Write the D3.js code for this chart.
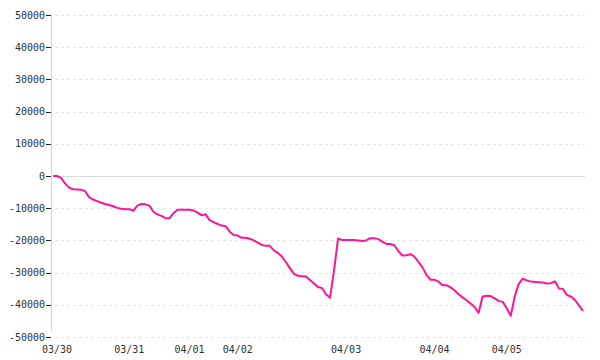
<!DOCTYPE html>
<html>
<head>
<meta charset="utf-8">
<script src="https://cdn.jsdelivr.net/npm/d3@7"></script>
<style>
  body { margin: 0; background: #fff; }
  .label { fill: #333; font-family: "DejaVu Sans Mono", monospace; font-size: 10px; }
</style>
</head>
<body>
<div id="chart"></div>
<script>
// y axis ticks
const yTicks = [50000, 40000, 30000, 20000, 10000, 0, -10000, -20000, -30000, -40000, -50000];

// date labels and the sample index where each day starts
const dayLabels = ["03/30", "03/31", "04/01", "04/02", "04/03", "04/04", "04/05"];
const dayIndex = [1, 19, 34, 46, 73, 95, 113];

// running total, one sample per step
const values = [
  0, 0, -600, -2300, -3600, -4100, -4200, -4300, -4700, -6600,
  -7300, -7800, -8300, -8700, -9000, -9400, -9900, -10200, -10300, -10300,
  -10800, -9200, -8700, -8800, -9200, -11100, -11900, -12400, -13100, -13100,
  -11600, -10500, -10500, -10500, -10500, -10700, -11400, -12200, -11900, -13700,
  -14300, -14900, -15400, -15600, -17300, -18300, -18500, -19200, -19200, -19500,
  -20000, -20700, -21400, -21700, -21700, -23100, -23900, -25000, -26700, -28600,
  -30400, -31000, -31100, -31200, -32300, -33400, -34500, -34800, -36700, -37800,
  -29300, -19400, -19900, -19900, -19900, -19900, -20000, -20200, -20000, -19300,
  -19300, -19600, -20400, -21100, -21100, -21500, -23300, -24700, -24600, -24300,
  -25000, -26700, -28300, -30700, -32200, -32200, -32800, -33900, -33900, -34600,
  -35500, -36700, -37700, -38600, -39600, -40700, -42500, -37400, -37200, -37300,
  -38000, -38800, -39100, -41100, -43400, -37400, -33500, -31900, -32400, -32800,
  -32900, -33000, -33100, -33400, -33300, -32700, -34900, -35100, -37000, -37400,
  -38500, -40200, -41900
];

const width = 600,
  height = 360;

const svg = d3
  .select("#chart")
  .append("svg")
  .attr("width", width)
  .attr("height", height);

const x = d3.scaleLinear().domain([0, values.length - 1]).range([53, 583]);
const y = d3.scaleLinear().domain([-50000, 50000]).range([337, 15]);

// dashed grid, zero line is solid
svg
  .selectAll("line.grid")
  .data(yTicks)
  .enter()
  .append("line")
  .attr("class", "grid")
  .attr("x1", 55)
  .attr("x2", 585)
  .attr("y1", d => Math.round(y(d)) + 0.5)
  .attr("y2", d => Math.round(y(d)) + 0.5)
  .attr("stroke", d => (d === 0 ? "#dcdcdc" : "#e6e6e6"))
  .attr("stroke-dasharray", d => (d === 0 ? null : "3,3"))
  .attr("shape-rendering", "crispEdges");

// vertical axis line
svg
  .append("line")
  .attr("x1", 51.5)
  .attr("x2", 51.5)
  .attr("y1", y(50000))
  .attr("y2", 332)
  .attr("stroke", "#d6d6d6")
  .attr("shape-rendering", "crispEdges");

// y ticks + labels
const yAxis = svg.append("g");
yAxis
  .selectAll("line")
  .data(yTicks)
  .enter()
  .append("line")
  .attr("x1", 46)
  .attr("x2", 51)
  .attr("y1", d => Math.round(y(d)) + 0.5)
  .attr("y2", d => Math.round(y(d)) + 0.5)
  .attr("stroke", "#222")
  .attr("shape-rendering", "crispEdges");

yAxis
  .selectAll("text")
  .data(yTicks)
  .enter()
  .append("text")
  .attr("class", "label")
  .attr("x", 45)
  .attr("y", d => y(d))
  .attr("dy", "0.35em")
  .attr("text-anchor", "end")
  .text(d => d);

// x labels at the first sample of each day
svg
  .selectAll("text.day")
  .data(dayLabels)
  .enter()
  .append("text")
  .attr("class", "label day")
  .attr("x", (d, i) => x(dayIndex[i]))
  .attr("y", 353)
  .attr("text-anchor", "middle")
  .text(d => d);

// the series
const line = d3
  .line()
  .x((d, i) => x(i))
  .y(d => y(d));

svg
  .append("path")
  .datum(values)
  .attr("d", line)
  .attr("fill", "none")
  .attr("stroke", "#ff1493")
  .attr("stroke-width", 2)
  .attr("stroke-linejoin", "round");
</script>
</body>
</html>
